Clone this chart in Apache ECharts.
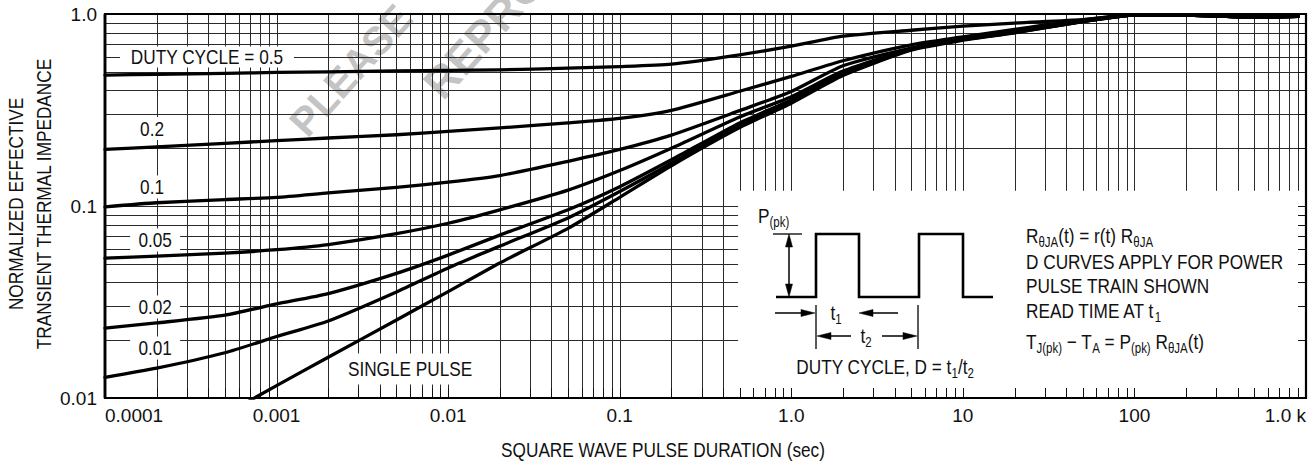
<!DOCTYPE html>
<html>
<head>
<meta charset="utf-8">
<script src="https://cdn.jsdelivr.net/npm/echarts@6/dist/echarts.min.js"></script>
<style>
html,body{margin:0;padding:0;background:#fff;}
#c{width:1315px;height:465px;}
</style>
</head>
<body>
<div id="c"></div>
<script>
// ---------------- DATA ----------------
const pulseDuration = [0.0001, 0.0002, 0.0005, 0.001, 0.002, 0.005, 0.01, 0.02, 0.05, 0.1, 0.2, 0.5, 1, 2, 5, 10, 20, 50, 100, 200, 500, 900];
const duty05  = [0.481, 0.485, 0.491, 0.496, 0.500, 0.506, 0.508, 0.512, 0.522, 0.532, 0.548, 0.613, 0.680, 0.767, 0.823, 0.864, 0.897, 0.935, 0.988, 0.988, 0.965, 0.972];
const duty02  = [0.197, 0.203, 0.212, 0.219, 0.226, 0.235, 0.245, 0.255, 0.271, 0.286, 0.315, 0.396, 0.473, 0.571, 0.691, 0.759, 0.832, 0.932, 0.988, 0.988, 0.965, 0.972];
const duty01  = [0.099, 0.104, 0.108, 0.111, 0.117, 0.125, 0.133, 0.144, 0.171, 0.197, 0.234, 0.314, 0.395, 0.538, 0.665, 0.745, 0.810, 0.920, 0.988, 0.988, 0.965, 0.972];
const duty005 = [0.0535, 0.0548, 0.0568, 0.0592, 0.0630, 0.0718, 0.0813, 0.0955, 0.121, 0.153, 0.200, 0.291, 0.371, 0.504, 0.660, 0.740, 0.806, 0.918, 0.988, 0.988, 0.965, 0.972];
const duty002 = [0.0231, 0.0246, 0.0270, 0.0309, 0.0350, 0.0446, 0.0555, 0.0705, 0.0956, 0.126, 0.174, 0.271, 0.357, 0.490, 0.655, 0.737, 0.803, 0.916, 0.988, 0.988, 0.965, 0.972];
const duty001 = [0.0128, 0.0143, 0.0172, 0.0209, 0.0252, 0.0357, 0.0476, 0.0618, 0.0867, 0.119, 0.167, 0.266, 0.350, 0.483, 0.652, 0.735, 0.800, 0.914, 0.988, 0.988, 0.965, 0.972];
const singlePulse = [null, null, 0.0082, 0.0116, 0.0163, 0.0255, 0.0358, 0.0505, 0.0765, 0.111, 0.162, 0.256, 0.343, 0.478, 0.648, 0.730, 0.798, 0.912, 0.988, 0.988, 0.965, 0.972];

const xTickValues = [0.0001, 0.001, 0.01, 0.1, 1, 10, 100, 1000];
const xTickLabels = ['0.0001', '0.001', '0.01', '0.1', '1.0', '10', '100', '1.0 k'];
const yTickValues = [0.01, 0.1, 1];
const yTickLabels = ['0.01', '0.1', '1.0'];

const curveNames = ['DUTY CYCLE = 0.5', '0.2', '0.1', '0.05', '0.02', '0.01', 'SINGLE PULSE'];
// caption anchor points (data coordinates) for the curve captions
const captionAnchors = [[3.93e-4, 0.597], [1.88e-4, 0.253], [1.88e-4, 0.1256], [1.96e-4, 0.0665], [1.96e-4, 0.0298], [1.96e-4, 0.0182], [6.0e-3, 0.01416]];

// ---------------- LAYOUT / STYLE ----------------
const X_MIN = 0.0001, X_MAX = 1000, Y_MIN = 0.01, Y_MAX = 1;
const INSET_CORNER = [0.49, 0.12];
const FONT = "'Liberation Sans', Arial, sans-serif";
const NARROW = 0.82;
const INK = '#111';
const GRID_COLOR = '#2a2a2a';
const captionPadding = [[0, 13], [1, 12], [1, 12], [1, 10], [1, 10], [1, 10], [5, 9]];

// log-grid positions (1..9 per decade)
const xGridValues = [];
for (let e = -4; e <= 2; e++) for (let m = 1; m <= 9; m++) xGridValues.push(+(m * Math.pow(10, e)).toPrecision(3));
xGridValues.push(1000);
const yGridValues = [];
for (let e = -2; e <= -1; e++) for (let m = 1; m <= 9; m++) yGridValues.push(+(m * Math.pow(10, e)).toPrecision(3));
yGridValues.push(1);

function findLabel(vals, labels, v) {
  const i = vals.findIndex(t => Math.abs(Math.log10(t) - Math.log10(v)) < 1e-6);
  return i >= 0 ? labels[i] : '';
}

function gridLines(params, api) {
  const bl = api.coord([X_MIN, Y_MIN]), tr = api.coord([X_MAX, Y_MAX]);
  const st = {stroke: GRID_COLOR, lineWidth: 1};
  const ch = [];
  xGridValues.forEach(v => {
    const x = Math.round(api.coord([v, Y_MIN])[0]) + 0.5;
    ch.push({type: 'line', shape: {x1: x, y1: tr[1], x2: x, y2: bl[1]}, style: st});
  });
  yGridValues.forEach(v => {
    const y = Math.round(api.coord([X_MIN, v])[1]) + 0.5;
    ch.push({type: 'line', shape: {x1: bl[0], y1: y, x2: tr[0], y2: y}, style: st});
  });
  return {type: 'group', children: ch};
}

function frame(params, api) {
  const bl = api.coord([X_MIN, Y_MIN]), tr = api.coord([X_MAX, Y_MAX]);
  const ib = api.coord(INSET_CORNER);
  const ch = [];
  ch.push({type: 'rect', shape: {x: ib[0], y: ib[1], width: tr[0] - ib[0], height: bl[1] - ib[1]}, style: {fill: '#fff'}});
  const ts = {stroke: '#111', lineWidth: 1};
  xGridValues.forEach(v => {
    const x = Math.round(api.coord([v, Y_MIN])[0]) + 0.5;
    ch.push({type: 'line', shape: {x1: x, y1: bl[1], x2: x, y2: bl[1] - 10}, style: ts});
  });
  yGridValues.forEach(v => {
    const y = Math.round(api.coord([X_MAX, v])[1]) + 0.5;
    ch.push({type: 'line', shape: {x1: tr[0], y1: y, x2: tr[0] - 8, y2: y}, style: ts});
  });
  ch.push({type: 'rect', shape: {x: bl[0], y: tr[1], width: tr[0] - bl[0], height: bl[1] - tr[1]}, style: {fill: 'none', stroke: '#000', lineWidth: 2.2}});
  ch.push({type: 'line', shape: {x1: bl[0], y1: tr[1], x2: bl[0], y2: bl[1]}, style: {stroke: '#000', lineWidth: 2.8}});
  return {type: 'group', children: ch};
}

const curves = [duty05, duty02, duty01, duty005, duty002, duty001, singlePulse];
const lineSeries = curves.map((arr, k) => ({
  type: 'line',
  name: curveNames[k],
  data: pulseDuration.map((x, i) => [x, arr[i] == null ? '-' : arr[i]]),
  showSymbol: false,
  symbol: 'none',
  smooth: 0.2,
  clip: true,
  z: 5,
  silent: true,
  lineStyle: {color: '#000', width: 3.3, cap: 'round', join: 'round'},
  animation: false
}));

// ---- rich text helpers for the inset ----
const RICH = {
  n: {fontSize: 21, fontFamily: FONT, fill: INK, lineHeight: 26},
  s: {fontSize: 14, fontFamily: FONT, fill: INK, lineHeight: 14, verticalAlign: 'bottom'}
};
function rtext(x, y, text, align) {
  return {type: 'text', x: x, y: y, z: 20, scaleX: NARROW, silent: true,
    style: {text: text, rich: RICH, fontSize: 21, fontFamily: FONT, fill: INK, lineHeight: 26,
      align: align || 'left', verticalAlign: 'middle'}};
}
function seg(pts, w) {
  return {type: 'polyline', z: 20, silent: true, shape: {points: pts}, style: {stroke: '#000', lineWidth: w || 1.5, fill: null}};
}
function head(pts) {
  return {type: 'polygon', z: 20, silent: true, shape: {points: pts}, style: {fill: '#000', stroke: '#000', lineWidth: 0.5}};
}

const graphics = [
  // watermark
  {type: 'text', x: 312, y: 143, rotation: 48 * Math.PI / 180, z: 0, silent: true,
    style: {text: 'PLEASE', fontSize: 40, fontWeight: 'bold', fontFamily: FONT, fill: '#c4c4c4', align: 'left', verticalAlign: 'bottom'}},
  {type: 'text', x: 448, y: 106, rotation: 48 * Math.PI / 180, z: 0, silent: true,
    style: {text: 'REPRODUCE', fontSize: 44, fontWeight: 'bold', fontFamily: FONT, fill: '#c4c4c4', align: 'left', verticalAlign: 'bottom'}},
  // axis titles
  {type: 'text', x: 663, y: 450, z: 20, scaleX: NARROW, silent: true,
    style: {text: 'SQUARE WAVE PULSE DURATION (sec)', fontSize: 21, fontFamily: FONT, fill: INK, align: 'center', verticalAlign: 'middle'}},
  {type: 'text', x: 30, y: 204, rotation: Math.PI / 2, scaleX: NARROW, z: 20, silent: true,
    style: {text: 'NORMALIZED EFFECTIVE\nTRANSIENT THERMAL IMPEDANCE', fontSize: 21, fontFamily: FONT, fill: INK, lineHeight: 28, align: 'center', verticalAlign: 'middle'}},
  // pulse waveform
  seg([[776, 297], [816, 297], [816, 234], [859, 234], [859, 297], [919, 297], [919, 234], [963, 234], [963, 297], [993, 297]], 2.6),
  // P(pk) reference & double arrow
  seg([[773, 234], [802, 234]], 1.3),
  seg([[789, 246], [789, 285]], 1.5),
  head([[789, 234], [785.5, 247], [792.5, 247]]),
  head([[789, 297], [785.5, 284], [792.5, 284]]),
  rtext(758, 216, '{n|P}{s|(pk)}'),
  // t1 markers
  seg([[816, 305], [816, 349]], 1.3),
  seg([[918, 305], [918, 349]], 1.3),
  seg([[775, 313], [802, 313]], 1.5),
  head([[815, 313], [801, 309.5], [801, 316.5]]),
  seg([[872, 313], [898, 313]], 1.5),
  head([[859, 313], [873, 309.5], [873, 316.5]]),
  rtext(836, 313, '{n|t}{s|1}', 'center'),
  // t2
  head([[817, 336], [831, 332.5], [831, 339.5]]),
  seg([[830, 336], [851, 336]], 1.5),
  rtext(866, 336, '{n|t}{s|2}', 'center'),
  seg([[882, 336], [905, 336]], 1.5),
  head([[917, 336], [903, 332.5], [903, 339.5]]),
  rtext(885, 367, '{n|DUTY CYCLE, D = t}{s|1}{n|/t}{s|2}', 'center'),
  // notes
  rtext(1026, 236, '{n|R}{s|\u03b8JA}{n|(t) = r(t) R}{s|\u03b8JA}'),
  rtext(1026, 262, '{n|D CURVES APPLY FOR POWER}'),
  rtext(1026, 286, '{n|PULSE TRAIN SHOWN}'),
  rtext(1026, 311, '{n|READ TIME AT t}{s|1}'),
  rtext(1026, 342, '{n|T}{s|J(pk)}{n| \u2212 T}{s|A}{n| = P}{s|(pk)}{n| R}{s|\u03b8JA}{n|(t)}')
];

const option = {
  animation: false,
  backgroundColor: '#fff',
  grid: {left: 105, right: 9, top: 14, bottom: 67, show: false},
  xAxis: {
    type: 'log', logBase: 10, min: X_MIN, max: X_MAX, splitNumber: 7,
    axisLine: {show: false}, axisTick: {show: false}, splitLine: {show: false},
    minorTick: {show: false}, minorSplitLine: {show: false},
    axisLabel: {
      margin: 8, fontSize: 19, fontFamily: FONT, color: INK,
      alignMinLabel: 'left', alignMaxLabel: 'right',
      formatter: v => findLabel(xTickValues, xTickLabels, v)
    }
  },
  yAxis: {
    type: 'log', logBase: 10, min: Y_MIN, max: Y_MAX, splitNumber: 2,
    axisLine: {show: false}, axisTick: {show: false}, splitLine: {show: false},
    minorTick: {show: false}, minorSplitLine: {show: false},
    axisLabel: {
      margin: 8, fontSize: 19, fontFamily: FONT, color: INK,
      formatter: v => findLabel(yTickValues, yTickLabels, v)
    }
  },
  series: [
    {type: 'custom', z: 1, silent: true, clip: false, data: [[1, 0.1]], renderItem: gridLines, animation: false},
    {type: 'custom', z: 4, silent: true, clip: false, data: [[1, 0.1]], renderItem: frame, animation: false},
    ...lineSeries
  ],
  graphic: {elements: graphics}
};

const chart = echarts.init(document.getElementById('c'), null, {renderer: 'svg', width: 1315, height: 465});
chart.setOption(option);

// captions placed at data coordinates through the chart's own scales
const captions = curveNames.map((t, i) => {
  const p = chart.convertToPixel({gridIndex: 0}, captionAnchors[i]);
  return {type: 'text', x: p[0], y: p[1], scaleX: NARROW, z: 4.5, silent: true,
    style: {text: t, fontSize: 21, fontFamily: FONT, fill: INK, align: 'center', verticalAlign: 'middle',
      backgroundColor: '#fff', padding: captionPadding[i]}};
});
option.graphic = {elements: graphics.concat(captions)};
chart.setOption(option, true);
</script>
</body>
</html>
